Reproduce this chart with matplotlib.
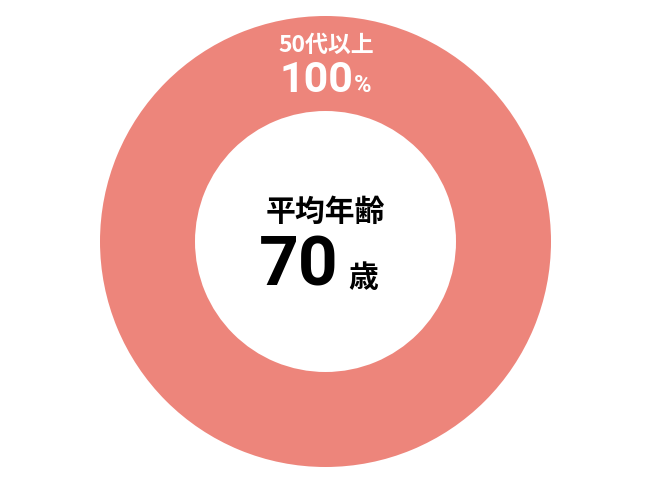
import matplotlib.pyplot as plt

# data
labels = ["50代以上"]
values = [100]
colors = ["#ED857B"]
avg_age = 70

fig = plt.figure(figsize=(6.5, 5), dpi=100)
ax = fig.add_axes([0, 0, 1, 1])

cx, cy = 325.5, 500 - 241.5
ax.pie(values, colors=colors, radius=225.5, center=(cx, cy), startangle=90,
       counterclock=False, wedgeprops=dict(width=95, linewidth=0))
ax.set_xlim(0, 650)
ax.set_ylim(0, 500)
ax.set_aspect("equal")
ax.axis("off")

cjk = ["Noto Sans CJK JP", "DejaVu Sans"]
num = ["Roboto", "Noto Sans CJK JP"]

# segment label
ax.text(326, 500 - 45, labels[0], ha="center", va="center", color="white",
        fontsize=16.5, fontweight="bold", family=cjk)
ax.text(353, 500 - 81, f"{values[0]}", ha="right", va="center", color="white",
        fontsize=31, fontweight="bold", family=num)
ax.text(354, 500 - 86, "%", ha="left", va="center", color="white",
        fontsize=17, fontweight="bold", family=num)

# centre text
ax.text(325, 500 - 212, "平均年齢", ha="center", va="center", color="black",
        fontsize=21.5, fontweight="bold", family=cjk)
ax.text(339, 500 - 267, f"{avg_age}", ha="right", va="center", color="black",
        fontsize=50, fontweight="bold", family=num)
ax.text(348, 500 - 278, "歳", ha="left", va="center", color="black",
        fontsize=21.5, fontweight="bold", family=cjk)

fig.savefig("out.png", dpi=100)
